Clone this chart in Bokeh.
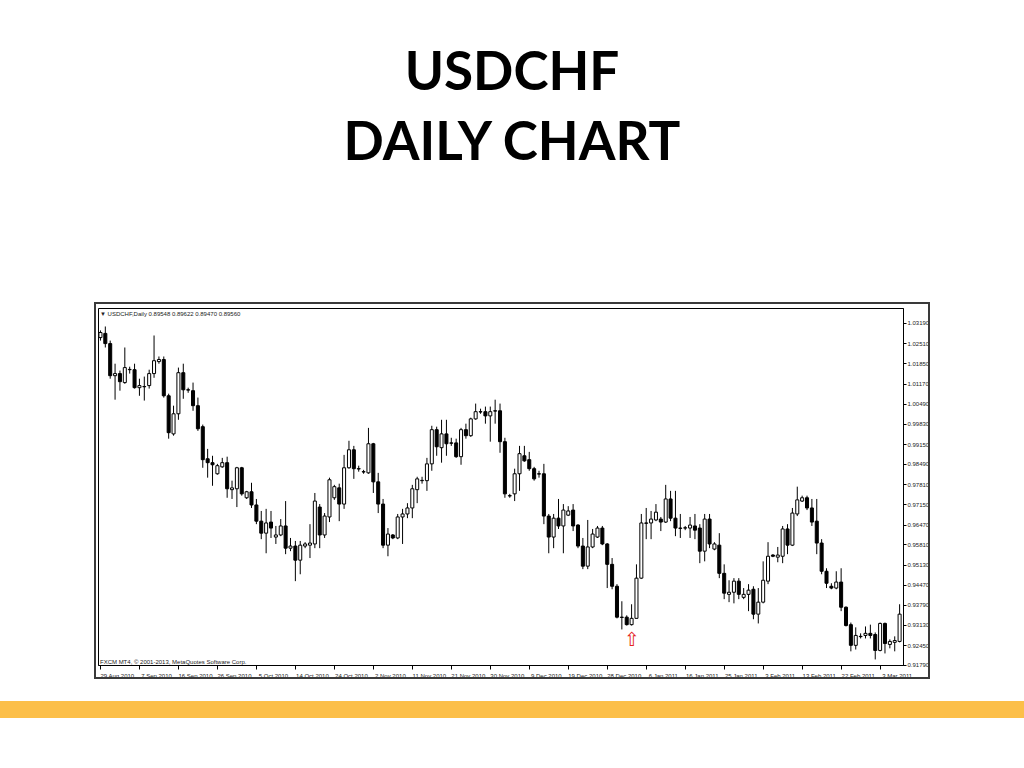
import numpy as np
from bokeh.plotting import figure
from bokeh.models import Range1d, FixedTicker, PrintfTickFormatter, Div, Spacer, Label, ColumnDataSource, LinearAxis
from bokeh.layouts import column, row
from bokeh.embed import file_html
from bokeh.resources import INLINE
from bokeh.core.properties import value

# ---------------- data (USDCHF daily) ----------------
opens = [1.0272,1.0286,1.0252,1.0145,1.0152,1.0122,1.0165,1.0165,1.0105,1.0108,
         1.0112,1.0152,1.0192,1.0199,1.0078,0.9951,1.0018,1.0155,1.0098,1.0095,
         1.0045,0.9975,0.9868,0.9855,0.9818,0.9841,0.9855,0.9765,0.9768,0.9838,
         0.9738,0.9758,0.9714,0.9660,0.9620,0.9657,0.9607,0.9614,0.9644,0.9570,
         0.9577,0.9530,0.9577,0.9580,0.9584,0.9707,0.9614,0.9674,0.9738,0.9771,
         0.9717,0.9838,0.9898,0.9835,0.9825,0.9821,0.9918,0.9791,0.9717,0.9580,
         0.9614,0.9604,0.9674,0.9684,0.9704,0.9765,0.9795,0.9795,0.9851,0.9965,
         0.9905,0.9951,0.9921,0.9921,0.9875,0.9965,0.9945,1.0001,1.0025,1.0025,
         1.0011,1.0028,1.0028,0.9925,0.9745,0.9751,0.9818,0.9878,0.9865,0.9835,
         0.9818,0.9818,0.9677,0.9607,0.9670,0.9644,0.9680,0.9697,0.9647,0.9577,
         0.9510,0.9574,0.9607,0.9637,0.9584,0.9516,0.9443,0.9340,0.9340,0.9315,
         0.9336,0.9470,0.9654,0.9654,0.9664,0.9667,0.9657,0.9734,0.9670,0.9637,
         0.9637,0.9637,0.9644,0.9637,0.9560,0.9667,0.9567,0.9580,0.9486,0.9416,
         0.9423,0.9460,0.9406,0.9416,0.9433,0.9350,0.9390,0.9460,0.9547,0.9540,
         0.9543,0.9634,0.9580,0.9684,0.9727,0.9738,0.9704,0.9660,0.9587,0.9493,
         0.9443,0.9437,0.9457,0.9373,0.9315,0.9246,0.9276,0.9279,0.9286,0.9282,
         0.9229,0.9319,0.9249,0.9256,0.9259]
highs = [1.0296,1.0309,1.0262,1.0185,1.0162,1.0239,1.0175,1.0185,1.0135,1.0142,
         1.0165,1.0279,1.0209,1.0209,1.0085,1.0045,1.0172,1.0185,1.0105,1.0122,
         1.0072,0.9982,0.9901,0.9878,0.9851,0.9871,0.9875,0.9795,0.9841,0.9841,
         0.9761,0.9788,0.9734,0.9694,0.9701,0.9694,0.9644,0.9667,0.9727,0.9604,
         0.9594,0.9594,0.9590,0.9650,0.9754,0.9717,0.9687,0.9805,0.9781,0.9785,
         0.9881,0.9928,0.9911,0.9845,0.9831,0.9971,0.9921,0.9821,0.9734,0.9637,
         0.9617,0.9684,0.9701,0.9720,0.9781,0.9808,0.9808,0.9871,0.9978,0.9975,
         0.9998,0.9998,0.9938,0.9935,0.9971,0.9985,1.0005,1.0052,1.0035,1.0042,
         1.0042,1.0065,1.0052,0.9938,0.9751,0.9835,0.9911,0.9911,0.9891,0.9841,
         0.9828,0.9851,0.9684,0.9684,0.9734,0.9717,0.9710,0.9717,0.9650,0.9604,
         0.9664,0.9634,0.9644,0.9644,0.9587,0.9537,0.9450,0.9393,0.9346,0.9383,
         0.9516,0.9684,0.9704,0.9694,0.9717,0.9674,0.9781,0.9761,0.9761,0.9684,
         0.9644,0.9674,0.9684,0.9650,0.9684,0.9684,0.9590,0.9620,0.9516,0.9463,
         0.9470,0.9470,0.9437,0.9450,0.9443,0.9437,0.9526,0.9590,0.9550,0.9574,
         0.9644,0.9650,0.9704,0.9775,0.9745,0.9745,0.9734,0.9734,0.9600,0.9503,
         0.9453,0.9493,0.9503,0.9376,0.9322,0.9306,0.9286,0.9309,0.9315,0.9289,
         0.9322,0.9322,0.9266,0.9276,0.9383]
lows = [1.0262,1.0239,1.0135,1.0065,1.0095,1.0118,1.0152,1.0102,1.0078,1.0062,
        1.0102,1.0138,1.0185,1.0072,0.9935,0.9945,0.9998,1.0068,1.0088,1.0028,
        0.9961,0.9838,0.9805,0.9778,0.9815,0.9838,0.9738,0.9734,0.9707,0.9745,
        0.9734,0.9704,0.9650,0.9600,0.9553,0.9604,0.9584,0.9610,0.9550,0.9560,
        0.9460,0.9483,0.9570,0.9537,0.9570,0.9570,0.9604,0.9657,0.9731,0.9660,
        0.9701,0.9835,0.9801,0.9825,0.9818,0.9818,0.9754,0.9687,0.9570,0.9543,
        0.9600,0.9600,0.9584,0.9670,0.9670,0.9720,0.9785,0.9761,0.9828,0.9878,
        0.9855,0.9878,0.9911,0.9871,0.9848,0.9935,0.9941,0.9998,1.0018,0.9985,
        0.9925,0.9985,0.9888,0.9738,0.9738,0.9727,0.9761,0.9858,0.9828,0.9795,
        0.9805,0.9650,0.9553,0.9570,0.9634,0.9553,0.9677,0.9627,0.9570,0.9500,
        0.9500,0.9570,0.9604,0.9580,0.9437,0.9433,0.9336,0.9299,0.9312,0.9312,
        0.9336,0.9467,0.9600,0.9600,0.9660,0.9627,0.9654,0.9660,0.9610,0.9604,
        0.9630,0.9604,0.9600,0.9520,0.9526,0.9570,0.9563,0.9470,0.9400,0.9390,
        0.9386,0.9400,0.9400,0.9360,0.9333,0.9319,0.9386,0.9450,0.9540,0.9523,
        0.9520,0.9550,0.9577,0.9677,0.9724,0.9697,0.9644,0.9550,0.9483,0.9437,
        0.9433,0.9433,0.9360,0.9309,0.9226,0.9232,0.9269,0.9269,0.9269,0.9199,
        0.9226,0.9219,0.9236,0.9226,0.9256]
closes = [1.0289,1.0252,1.0145,1.0152,1.0125,1.0172,1.0166,1.0105,1.0112,1.0109,
          1.0152,1.0195,1.0199,1.0078,0.9955,1.0018,1.0155,1.0098,1.0097,1.0045,
          0.9968,0.9865,0.9855,0.9848,0.9845,0.9855,0.9768,0.9771,0.9838,0.9751,
          0.9758,0.9714,0.9660,0.9620,0.9654,0.9637,0.9614,0.9644,0.9570,0.9577,
          0.9530,0.9580,0.9584,0.9587,0.9727,0.9614,0.9677,0.9798,0.9775,0.9717,
          0.9838,0.9898,0.9835,0.9834,0.9824,0.9918,0.9791,0.9717,0.9580,0.9617,
          0.9604,0.9674,0.9684,0.9704,0.9768,0.9801,0.9796,0.9851,0.9965,0.9908,
          0.9951,0.9918,0.9920,0.9875,0.9965,0.9945,1.0001,1.0025,1.0024,1.0011,
          1.0025,1.0027,0.9925,0.9751,0.9744,0.9818,0.9885,0.9861,0.9835,0.9801,
          0.9817,0.9677,0.9607,0.9670,0.9644,0.9697,0.9694,0.9644,0.9577,0.9510,
          0.9574,0.9617,0.9637,0.9584,0.9516,0.9443,0.9340,0.9339,0.9315,0.9336,
          0.9470,0.9654,0.9653,0.9667,0.9690,0.9657,0.9734,0.9670,0.9637,0.9636,
          0.9638,0.9647,0.9630,0.9560,0.9667,0.9584,0.9584,0.9486,0.9420,0.9423,
          0.9460,0.9416,0.9416,0.9430,0.9350,0.9390,0.9463,0.9543,0.9543,0.9547,
          0.9634,0.9580,0.9687,0.9731,0.9738,0.9704,0.9657,0.9587,0.9493,0.9453,
          0.9437,0.9457,0.9373,0.9312,0.9246,0.9279,0.9275,0.9286,0.9279,0.9229,
          0.9319,0.9252,0.9259,0.9262,0.9350]

date_tick_bars = [0, 8, 16, 24, 32, 40, 48, 56, 64, 72, 80, 88, 96, 104, 112,
                  120, 128, 136, 144, 152, 160]
date_labels = ["29 Aug 2010", "7 Sep 2010", "16 Sep 2010", "26 Sep 2010", "5 Oct 2010",
               "14 Oct 2010", "24 Oct 2010", "2 Nov 2010", "11 Nov 2010", "21 Nov 2010",
               "30 Nov 2010", "9 Dec 2010", "19 Dec 2010", "28 Dec 2010", "6 Jan 2011",
               "16 Jan 2011", "25 Jan 2011", "3 Feb 2011", "13 Feb 2011", "22 Feb 2011",
               "3 Mar 2011"]
price_ticks = [1.03190, 1.02510, 1.01850, 1.01170, 1.00490, 0.99830, 0.99150, 0.98490,
               0.97810, 0.97150, 0.96470, 0.95810, 0.95130, 0.94470, 0.93790, 0.93130,
               0.92450, 0.91790]
arrow_bar = [109]
arrow_price = [0.9303]

# ---------------- chart ----------------
n = len(opens)
idx = np.arange(n)
o = np.array(opens); h = np.array(highs); l = np.array(lows); c = np.array(closes)
up = c >= o
src = ColumnDataSource(dict(
    x=idx, high=h, low=l,
    top=np.maximum(o, c), bottom=np.minimum(o, c),
    fill=np.where(up, "white", "black"),
))

FONT = "Liberation Sans"

p = figure(width=836, height=377, output_backend="svg", toolbar_location=None,
           x_range=Range1d(-0.4, 164.8), y_range=Range1d(0.91788, 1.0369),
           y_axis_location="right", min_border_left=2, min_border_top=4,
           min_border_right=26, min_border_bottom=10, margin=0,
           styles={"border": "2px solid #3a3a3a"})
p.background_fill_color = "white"
p.border_fill_color = "white"
p.outline_line_color = "black"
p.outline_line_width = 1
p.grid.visible = False

p.segment(x0="x", y0="low", x1="x", y1="high", source=src, line_color="black", line_width=1)
p.vbar(x="x", top="top", bottom="bottom", width=0.62, source=src,
       fill_color="fill", line_color="black", line_width=1)

p.text(x=arrow_bar, y=arrow_price, text=["\u21e7"], text_color="#e4261e",
       text_font=value("DejaVu Sans"), text_font_size="19px",
       text_align="center", text_baseline="top")

ya = p.yaxis[0]
ya.ticker = FixedTicker(ticks=price_ticks)
ya.formatter = PrintfTickFormatter(format="%.5f")
ya.major_label_text_font = FONT
ya.major_label_text_font_size = "6px"
ya.major_label_text_color = "#222222"
ya.major_tick_out = 3
ya.major_tick_in = 0
ya.minor_tick_out = 0
ya.minor_tick_in = 0
ya.major_label_standoff = 1
ya.axis_line_color = "black"

# tick marks of the time axis (MT4 puts each date to the right of its tick)
xa = p.xaxis[0]
xa.ticker = FixedTicker(ticks=date_tick_bars)
xa.major_label_overrides = {b: "" for b in date_tick_bars}
xa.major_label_text_font_size = "1px"
xa.major_label_standoff = 0
xa.major_tick_out = 4
xa.major_tick_in = 0
xa.minor_tick_out = 0
xa.minor_tick_in = 0
xa.axis_line_color = "black"

# date labels, centred half a label to the right of each tick
label_shift = 3.5
lab_pos = [b + label_shift for b in date_tick_bars]
xl = LinearAxis(ticker=FixedTicker(ticks=lab_pos),
                major_label_overrides={pp: s for pp, s in zip(lab_pos, date_labels)},
                major_label_text_font=FONT, major_label_text_font_size="6px",
                major_label_text_color="#222222", major_label_standoff=3,
                major_tick_out=0, major_tick_in=0, minor_tick_out=0, minor_tick_in=0,
                axis_line_color=None)
p.add_layout(xl, "below")

p.add_layout(Label(x=-0.1, y=1.0352, text="\u25bc USDCHF,Daily  0.89548 0.89622 0.89470 0.89560",
                   text_font=FONT, text_font_size="6px", text_color="#222222",
                   text_baseline="middle"))
p.add_layout(Label(x=-0.1, y=0.9189, text="FXCM MT4, \u00a9 2001-2013, MetaQuotes Software Corp.",
                   text_font=FONT, text_font_size="6px", text_color="#222222",
                   text_baseline="middle"))

title = Div(text=('<div style="font-family:Lato,sans-serif;font-weight:bold;font-size:53px;'
                  'line-height:70px;text-align:center;width:1024px;padding-top:35px;color:#000;">'
                  'USDCHF<br>DAILY CHART</div>'),
            width=1024, height=302, margin=0)
bar = Div(text='<div style="width:1024px;height:17px;background:#fcbf49;"></div>',
          width=1024, height=17, margin=0)

layout = column(title, row(Spacer(width=94, height=377, margin=0), p, margin=0),
                Spacer(height=22, width=10, margin=0), bar, margin=0)

open("out.html", "w").write(file_html(layout, INLINE))
